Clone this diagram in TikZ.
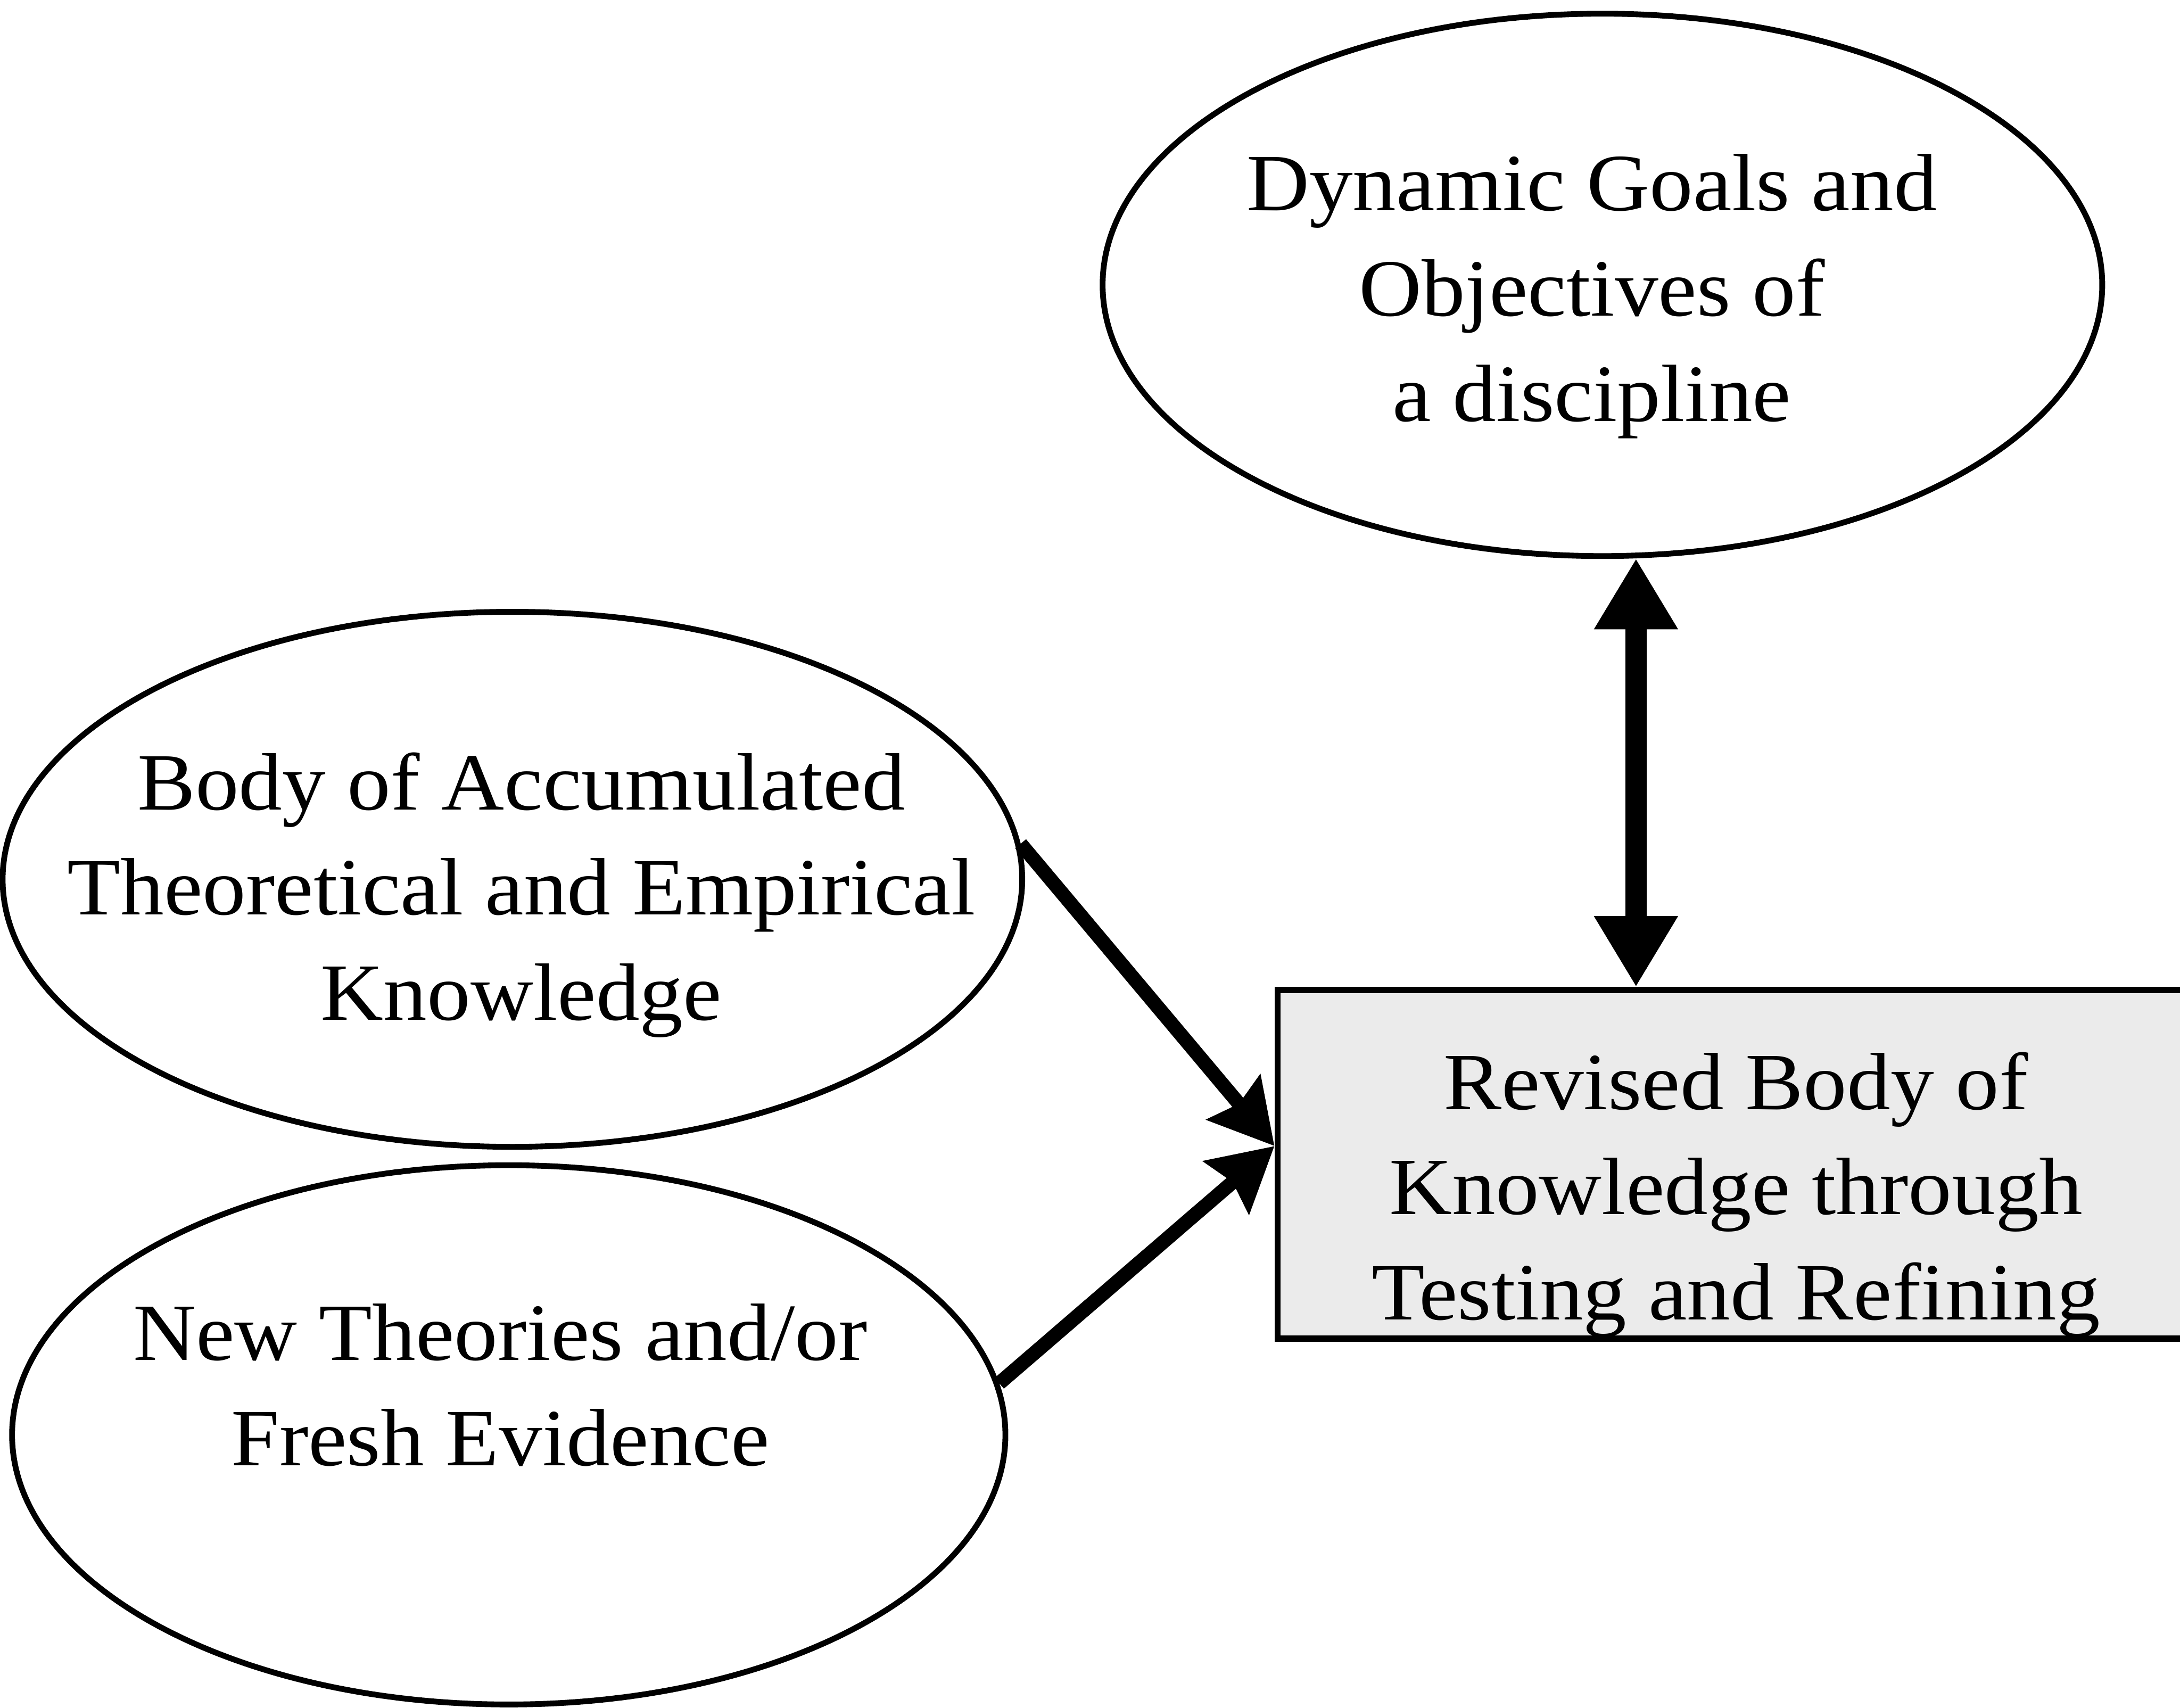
\documentclass[tikz,border=0pt]{standalone}
\usepackage{fontspec}
\setmainfont{Liberation Serif}[FakeStretch=1.07]
\usetikzlibrary{shapes.geometric,arrows.meta}
\begin{document}
\begin{tikzpicture}[
  bubble/.style={draw=black, line width=0.11cm, ellipse, fill=white, inner sep=0pt},
  panel/.style={draw=black, line width=0.12cm, rectangle, fill=black!8, inner sep=0pt},
  txt/.style={align=center, inner sep=0pt, font=\fontsize{44}{57}\selectfont},
  bigarrow/.style={line width=0.4cm,
    {Triangle[width=1.5cm,length=1.35cm]}-{Triangle[width=1.5cm,length=1.35cm]}},
  thinarrow/.style={line width=0.27cm,
    -{Stealth[width=1.3cm,length=1.2cm,inset=0.15cm]}}
]
\clip (0,0) rectangle (41.48,-32.49);
\fill[white] (0,0) rectangle (41.48,-32.49);

% shapes
\node[bubble, minimum width=19.02cm, minimum height=10.32cm] (goals) at (30.49,-5.42) {};
\node[bubble, minimum width=19.40cm, minimum height=10.18cm] (body) at (9.75,-16.73) {};
\node[bubble, minimum width=18.90cm, minimum height=10.26cm] (new) at (9.68,-27.30) {};
\node[panel, minimum width=17.69cm, minimum height=6.63cm] (rev) at (33.155,-22.155) {};

% texts
\node[txt] (goalsT) at (30.29,-5.64) {Dynamic Goals and\\Objectives of\\a discipline};
\node[txt] (bodyT) at (9.92,-17.03) {Body of Accumulated\\Theoretical and Empirical\\Knowledge};
\node[txt] (newT) at (9.52,-26.35) {New Theories and/or\\Fresh Evidence};
\node[txt] (revT) at (33.03,-22.73) {Revised Body of\\Knowledge through\\Testing and Refining};

% connectors
\coordinate (tgt) at ([yshift=0.35cm]rev.west);
\draw[thinarrow] (body.4) -- (tgt);
\draw[thinarrow] (new.6) -- (tgt);
\draw[bigarrow] (goals.-83) -- (goals.-83 |- rev.north);
\end{tikzpicture}
\end{document}
